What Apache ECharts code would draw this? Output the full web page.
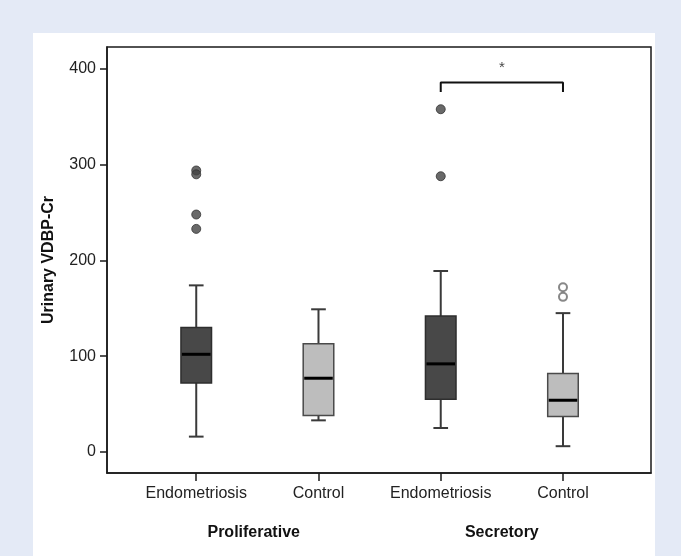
<!DOCTYPE html>
<html>
<head>
<meta charset="utf-8">
<script src="https://cdn.jsdelivr.net/npm/echarts@6/dist/echarts.min.js"></script>
<style>
  html, body { margin: 0; padding: 0; width: 681px; height: 556px; background: #e4eaf6; overflow: hidden; }
  #panel { position: absolute; left: 33px; top: 33px; width: 622px; height: 523px; background: #ffffff; }
  #chart { width: 622px; height: 523px; }
</style>
</head>
<body>
<div id="panel"><div id="chart"></div></div>
<script>
// ---- data ----
const groupNames = ['Endometriosis', 'Control', 'Endometriosis', 'Control'];
const phaseNames = ['Proliferative', 'Secretory'];
const positions = [1, 2, 3, 4];
const phasePositions = [1.47, 3.5];
// [min, Q1, median, Q3, max]
const boxStats = [
  [16, 72, 102, 130, 174],
  [33, 38, 77, 113, 149],
  [25, 55, 92, 142, 189],
  [6, 37, 54, 82, 145]
];
const boxShade = ['dark', 'light', 'dark', 'light'];
const outliersEndo = [[1, 294], [1, 290], [1, 248], [1, 233], [3, 358], [3, 288]];
const outliersControl = [[4, 172], [4, 162]];
const yTicks = [0, 100, 200, 300, 400];
const bracket = [[3, 376], [3, 386], [4, 386], [4, 376]];
const starPoint = [[3.5, 404]];

// ---- build ----
const boxData = boxStats.map((s, i) => [positions[i]].concat(s).concat([boxShade[i] === 'dark' ? 1 : 0]));

function renderBox(params, api) {
  const x = api.value(0);
  const pMin = api.coord([x, api.value(1)]);
  const pQ1 = api.coord([x, api.value(2)]);
  const pMed = api.coord([x, api.value(3)]);
  const pQ3 = api.coord([x, api.value(4)]);
  const pMax = api.coord([x, api.value(5)]);
  const dark = api.value(6) === 1;
  const unit = api.size([1, 0])[0];
  const bw = unit * 0.25;
  const cw = unit * 0.06;
  const cx = pQ1[0];
  const whisk = { stroke: '#3a3a3a', lineWidth: 2 };
  return {
    type: 'group',
    children: [
      { type: 'line', shape: { x1: cx, y1: pMax[1], x2: cx, y2: pQ3[1] }, style: whisk },
      { type: 'line', shape: { x1: cx, y1: pQ1[1], x2: cx, y2: pMin[1] }, style: whisk },
      { type: 'line', shape: { x1: cx - cw, y1: pMax[1], x2: cx + cw, y2: pMax[1] }, style: whisk },
      { type: 'line', shape: { x1: cx - cw, y1: pMin[1], x2: cx + cw, y2: pMin[1] }, style: whisk },
      { type: 'rect', shape: { x: cx - bw / 2, y: pQ3[1], width: bw, height: pQ1[1] - pQ3[1] },
        style: { fill: dark ? '#484848' : '#bdbdbd', stroke: dark ? '#2e2e2e' : '#4a4a4a', lineWidth: 1.5 } },
      { type: 'line', shape: { x1: cx - bw / 2 + 1, y1: pMed[1], x2: cx + bw / 2 - 1, y2: pMed[1] },
        style: { stroke: '#000', lineWidth: 3 } }
    ]
  };
}

const chart = echarts.init(document.getElementById('chart'), null, { renderer: 'canvas' });
const fontFam = '"Liberation Sans", Arial, sans-serif';
chart.setOption({
  animation: false,
  textStyle: { fontFamily: fontFam },
  grid: { left: 70, top: 14, right: 4, bottom: 83, show: true, borderColor: '#1a1a1a', borderWidth: 1.5, backgroundColor: 'transparent' },
  xAxis: [
    {
      type: 'value', min: 0.27, max: 4.72,
      axisLine: { show: true, onZero: false, lineStyle: { color: '#1a1a1a', width: 1.5 } },
      axisTick: { show: true, length: 8, customValues: positions, lineStyle: { color: '#1a1a1a', width: 1.5 } },
      axisLabel: { customValues: positions, formatter: v => groupNames[Math.round(v) - 1] || '', color: '#222', fontSize: 16, margin: 13, fontFamily: fontFam },
      splitLine: { show: false }
    },
    {
      type: 'value', min: 0.27, max: 4.72, position: 'bottom', offset: 44,
      axisLine: { show: false, onZero: false }, axisTick: { show: false },
      axisLabel: { customValues: phasePositions, formatter: v => phaseNames[v < 2.5 ? 0 : 1], color: '#111', fontSize: 16, fontWeight: 'bold', margin: 8, fontFamily: fontFam },
      splitLine: { show: false }
    }
  ],
  yAxis: {
    type: 'value', min: -22, max: 423,
    name: 'Urinary VDBP-Cr', nameLocation: 'middle', nameGap: 50, nameRotate: 90,
    nameTextStyle: { fontSize: 16, fontWeight: 'bold', color: '#111', fontFamily: fontFam },
    axisLine: { show: true, onZero: false, lineStyle: { color: '#1a1a1a', width: 1.5 } },
    axisTick: { show: true, length: 7, customValues: yTicks, lineStyle: { color: '#1a1a1a', width: 1.5 } },
    axisLabel: { customValues: yTicks, color: '#222', fontSize: 16, margin: 11, fontFamily: fontFam },
    splitLine: { show: false }
  },
  series: [
    { type: 'custom', renderItem: renderBox, data: boxData, encode: { x: 0, y: [1, 2, 3, 4, 5] }, z: 2 },
    { type: 'scatter', data: outliersEndo, symbol: 'circle', symbolSize: 9, itemStyle: { color: '#444', borderColor: '#333', borderWidth: 1 }, z: 3 },
    { type: 'scatter', data: outliersControl, symbol: 'circle', symbolSize: 8, itemStyle: { color: '#ffffff', borderColor: '#6a6a6a', borderWidth: 2 }, z: 3 },
    { type: 'line', data: bracket, symbol: 'none', lineStyle: { color: '#111', width: 2 }, z: 3 },
    { type: 'scatter', data: starPoint, symbolSize: 0, label: { show: true, position: 'inside', formatter: '*', fontSize: 15, color: '#111', offset: [0, 3] }, z: 3 }
  ]
});
</script>
</body>
</html>
